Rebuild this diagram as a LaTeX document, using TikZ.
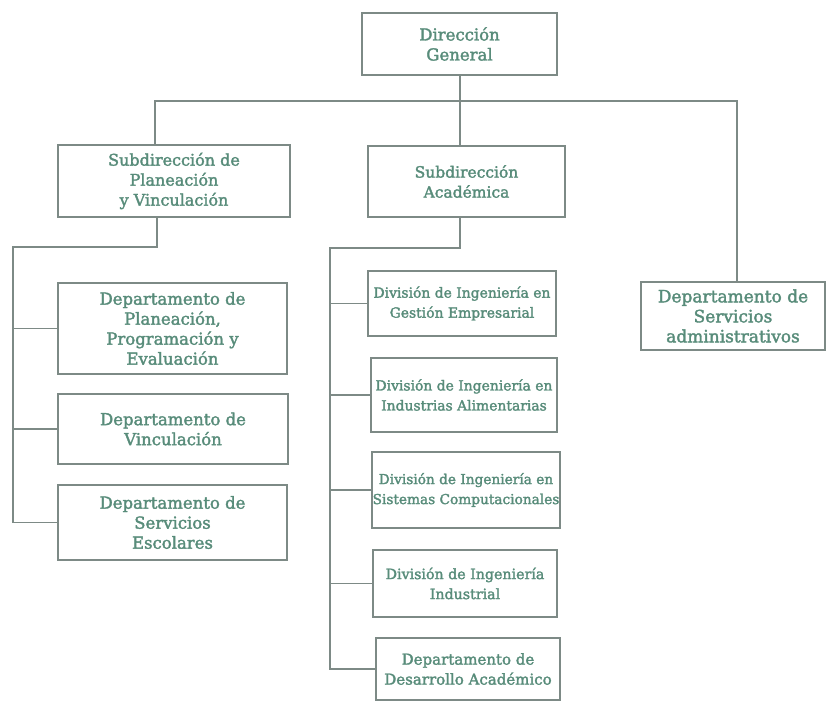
\documentclass[tikz,border=0pt]{standalone}
\usepackage{fontspec}
\setmainfont{DejaVu Serif}
\definecolor{txt}{RGB}{88,140,122}
\definecolor{ln}{RGB}{125,138,134}
\begin{document}
\begin{tikzpicture}[x=1pt,y=-1pt,
  box/.style={draw=ln,line width=1.1pt,align=center,text=txt,inner sep=0pt},
  fs/.style={font=\fontsize{#1}{20}\selectfont\addfontfeature{FakeBold=2}},
  conn/.style={draw=ln,line width=1.1pt}]
\useasboundingbox (0,0) rectangle (827,703);
\node[box,fs=16.5,minimum width=195,minimum height=62] (dg) at (459.5,44) {Dirección\\General};
\node[box,fs=16,minimum width=232,minimum height=72] (sp) at (174,181) {Subdirección de\\Planeación\\y Vinculación};
\node[box,fs=15.5,minimum width=197,minimum height=71] (sa) at (466.5,181.5) {Subdirección\\Académica};
\node[box,fs=17,minimum width=184,minimum height=68] (dsa) at (733,316) {Departamento de\\Servicios\\administrativos};
\node[box,fs=16.5,minimum width=229,minimum height=91] (dp) at (172.5,328.5) {Departamento de\\Planeación,\\Programación y\\Evaluación};
\node[box,fs=16.5,minimum width=230,minimum height=70] (dv) at (173,429) {Departamento de\\Vinculación};
\node[box,fs=16.5,minimum width=229,minimum height=75] (dse) at (172.5,522.5) {Departamento de\\Servicios\\Escolares};
\node[box,fs=13.9,minimum width=188,minimum height=65] (d1) at (462,303.5) {División de Ingeniería en\\Gestión Empresarial};
\node[box,fs=13.9,minimum width=186,minimum height=74] (d2) at (464,395) {División de Ingeniería en\\Industrias Alimentarias};
\node[box,fs=13.7,minimum width=188,minimum height=76] (d3) at (466,490) {División de Ingeniería en\\Sistemas Computacionales};
\node[box,fs=14.2,minimum width=184,minimum height=67] (d4) at (465,583.5) {División de Ingeniería\\Industrial};
\node[box,fs=15,minimum width=184,minimum height=62] (d5) at (468,669) {Departamento de\\Desarrollo Académico};
% top level
\coordinate (jL) at (155,101);
\coordinate (jR) at (737,101);
\coordinate (jM) at (460,101);
\draw[conn] (dg.south -| jM) -- (jM |- sa.north);
\draw[conn] (jL |- sp.north) -- (jL) -- (jR) -- (jR |- dsa.north);
% left tree
\coordinate (lb) at (157,247);
\coordinate (lbus) at (13,247);
\draw[conn] (lb |- sp.south) -- (lb) -- (lbus) -- (lbus |- dse.west) -- (dse.west);
\draw[conn] (lbus |- dp.west) -- (dp.west);
\draw[conn] (lbus |- dv.west) -- (dv.west);
% center tree
\coordinate (cb) at (460,248);
\coordinate (cbus) at (330,248);
\draw[conn] (cb |- sa.south) -- (cb) -- (cbus) -- (cbus |- d5.west) -- (d5.west);
\draw[conn] (cbus |- d1.west) -- (d1.west);
\draw[conn] (cbus |- d2.west) -- (d2.west);
\draw[conn] (cbus |- d3.west) -- (d3.west);
\draw[conn] (cbus |- d4.west) -- (d4.west);
\end{tikzpicture}
\end{document}
